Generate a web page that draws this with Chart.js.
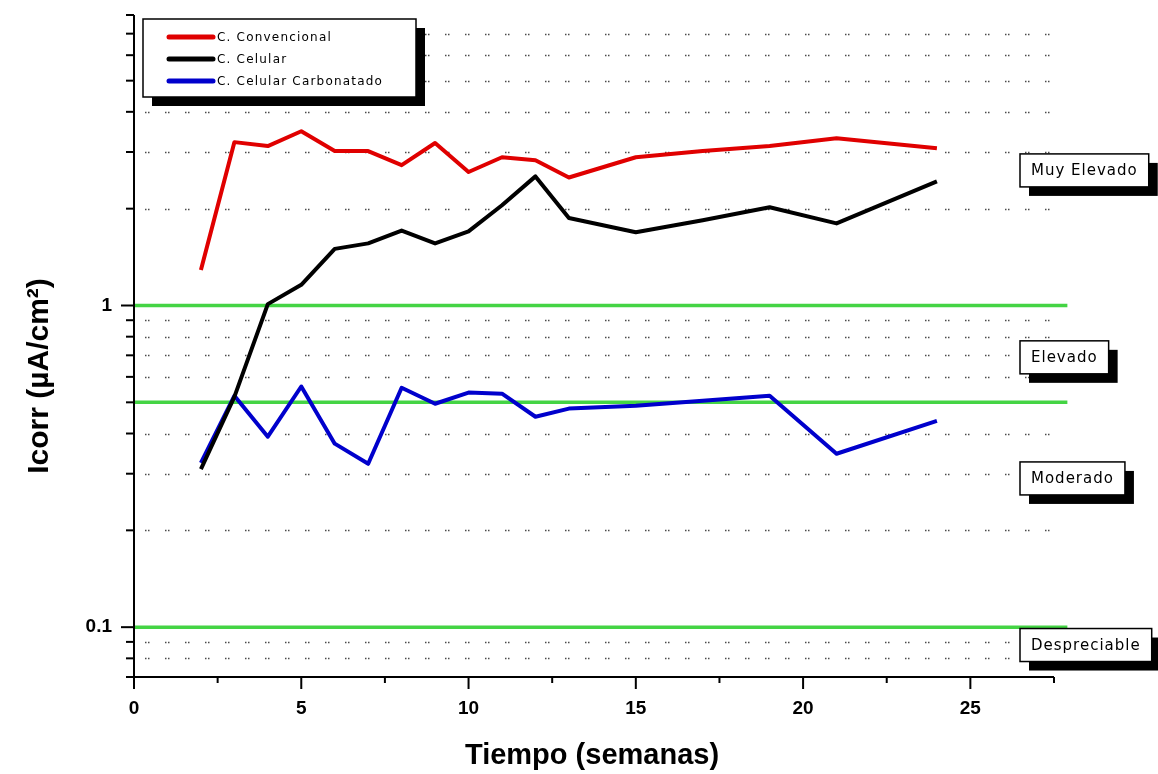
<!DOCTYPE html>
<html><head><meta charset="utf-8">
<script src="https://cdn.jsdelivr.net/npm/chart.js"></script>
<style>html,body{margin:0;padding:0;background:#fff;}canvas{display:block;}</style>
</head><body>
<canvas id="c" width="1158" height="774"></canvas>
<script>
// ---- data ----
const weeks        = [2, 3, 4, 5, 6, 7, 8, 9, 10, 11, 12, 13, 15, 17, 19, 21, 24];
const convencional = [1.29, 3.22, 3.13, 3.48, 3.02, 3.02, 2.73, 3.20, 2.60, 2.89, 2.83, 2.50, 2.89, 3.02, 3.13, 3.31, 3.08];
const celular      = [0.31, 0.52, 1.01, 1.16, 1.50, 1.56, 1.71, 1.56, 1.70, 2.05, 2.52, 1.87, 1.69, 1.84, 2.02, 1.80, 2.43];
const carbonatado  = [0.324, 0.524, 0.391, 0.56, 0.372, 0.322, 0.555, 0.495, 0.536, 0.532, 0.451, 0.478, 0.488, 0.506, 0.524, 0.346, 0.438];
const seriesNames  = ['C. Convencional', 'C. Celular', 'C. Celular Carbonatado'];
const thresholds   = [1, 0.5, 0.1];
const thresholdSpan = [0, 27.9];
const yTickValues  = [0.07, 0.08, 0.09, 0.1, 0.2, 0.3, 0.4, 0.5, 0.6, 0.7, 0.8, 0.9, 1, 2, 3, 4, 5, 6, 7, 8];
const yTickLabels  = { '0.1': '0.1', '1': '1' };
const yMajor       = [0.1, 1];
const xRange       = [0, 27.5];
const xStep        = 2.5;
const xLabelStep   = 5;
const bandLabels   = ['Muy Elevado', 'Elevado', 'Moderado', 'Despreciable'];
const bandLabelValues = [2.63, 0.69, 0.29, 0.088];
const xTitle = 'Tiempo (semanas)';
const yTitle = 'Icorr (\u00B5A/cm\u00B2)';

// ---- styles ----
const seriesColors = ['#e00000', '#000000', '#0000cc'];
const green = '#44d444';
const AX = "'Liberation Sans', Arial, sans-serif";
const PIX = "'DejaVu Sans', sans-serif";

const datasets = [
  { data: convencional, name: seriesNames[0], color: seriesColors[0] },
  { data: celular, name: seriesNames[1], color: seriesColors[1] },
  { data: carbonatado, name: seriesNames[2], color: seriesColors[2] }
].map(s => ({
  label: s.name,
  data: weeks.map((w, i) => ({ x: w, y: s.data[i] })),
  borderColor: s.color, backgroundColor: s.color,
  borderWidth: 4, pointRadius: 0, tension: 0, order: 0,
  borderJoinStyle: 'round', isSeries: true
}));
thresholds.forEach(t => datasets.push({
  label: 'ref ' + t,
  data: thresholdSpan.map(x => ({ x: x, y: t })),
  borderColor: green, borderWidth: 3.5, pointRadius: 0, order: 5, clip: false, isSeries: false
}));

function shadowBox(ctx, x, y, w, h, off) {
  ctx.fillStyle = '#000';
  ctx.fillRect(x + off, y + off, w, h);
  ctx.fillStyle = '#fff';
  ctx.fillRect(x, y, w, h);
  ctx.strokeStyle = '#000';
  ctx.lineWidth = 1.5;
  ctx.strokeRect(x, y, w, h);
}

const decor = {
  id: 'decor',
  beforeDatasetsDraw(chart) {
    const ctx = chart.ctx, ys = chart.scales.y, a = chart.chartArea;
    ctx.save();
    ctx.strokeStyle = 'rgba(30,30,30,0.8)';
    ctx.lineWidth = 1.3;
    ctx.setLineDash([1.5, 1.5, 1.5, 15.5]);
    yTickValues.forEach(v => {
      if (v === yTickValues[0] || v === yTickValues[yTickValues.length - 1] || thresholds.includes(v)) return;
      const y = Math.round(ys.getPixelForValue(v)) + 0.5;
      ctx.beginPath(); ctx.moveTo(a.left + 11, y); ctx.lineTo(a.right, y); ctx.stroke();
    });
    ctx.restore();
  },
  afterDatasetsDraw(chart) {
    const ctx = chart.ctx, xs = chart.scales.x, ys = chart.scales.y, a = chart.chartArea;
    ctx.save();
    // axes
    ctx.strokeStyle = '#000'; ctx.lineWidth = 2; ctx.setLineDash([]);
    const x0 = xs.getPixelForValue(xRange[0]);
    const yb = ys.getPixelForValue(yTickValues[0]);
    const yt = ys.getPixelForValue(yTickValues[yTickValues.length - 1]);
    ctx.beginPath(); ctx.moveTo(x0, yt); ctx.lineTo(x0, yb + 12); ctx.stroke();
    ctx.beginPath(); ctx.moveTo(x0 - 8, yb); ctx.lineTo(xs.getPixelForValue(xRange[1]), yb); ctx.stroke();
    yTickValues.forEach(v => {
      const y = ys.getPixelForValue(v);
      const len = yMajor.includes(v) ? 13 : 8;
      ctx.beginPath(); ctx.moveTo(x0 - len, y); ctx.lineTo(x0, y); ctx.stroke();
    });
    for (let v = xRange[0]; v <= xRange[1] + 1e-9; v += xStep) {
      const x = xs.getPixelForValue(v);
      const len = (v % xLabelStep === 0) ? 12 : 6;
      ctx.beginPath(); ctx.moveTo(x, yb); ctx.lineTo(x, yb + len); ctx.stroke();
    }
    // titles
    ctx.fillStyle = '#000';
    ctx.font = 'bold 29px ' + AX;
    ctx.textAlign = 'center'; ctx.textBaseline = 'middle';
    ctx.fillText(xTitle, 592, 756);
    ctx.save();
    ctx.translate(40, 376); ctx.rotate(-Math.PI / 2);
    ctx.font = 'bold 30px ' + AX;
    ctx.fillText(yTitle, 0, 0);
    ctx.restore();
    // legend
    const lx = 143, ly = 19, lw = 273, lh = 78;
    shadowBox(ctx, lx, ly, lw, lh, 9);
    ctx.font = '12px ' + PIX;
    ctx.letterSpacing = '1.2px';
    ctx.textAlign = 'left'; ctx.textBaseline = 'middle';
    chart.data.datasets.filter(d => d.isSeries).forEach((d, i) => {
      const yy = ly + 18 + i * 22;
      ctx.strokeStyle = d.borderColor; ctx.lineWidth = 5; ctx.lineCap = 'round';
      ctx.beginPath(); ctx.moveTo(lx + 26, yy); ctx.lineTo(lx + 70, yy); ctx.stroke();
      ctx.fillStyle = '#000';
      ctx.fillText(d.label, lx + 74, yy + 1);
    });
    ctx.lineCap = 'butt';
    // band labels
    ctx.font = '15px ' + PIX;
    ctx.letterSpacing = '1px';
    bandLabels.forEach((t, i) => {
      const cy = ys.getPixelForValue(bandLabelValues[i]);
      const w = ctx.measureText(t).width + 22, h = 33;
      const bx = a.right - 34;
      shadowBox(ctx, bx, cy - h / 2, w, h, 9);
      ctx.fillStyle = '#000';
      ctx.textAlign = 'left';
      ctx.fillText(t, bx + 11, cy + 1);
    });
    ctx.restore();
  }
};

new Chart(document.getElementById('c'), {
  type: 'line',
  data: { datasets: datasets },
  options: {
    responsive: false, animation: false, devicePixelRatio: 1,
    layout: { padding: { left: 0, top: 15, right: 104, bottom: 0 } },
    plugins: { legend: { display: false }, tooltip: { enabled: false } },
    scales: {
      x: {
        type: 'linear', min: xRange[0], max: xRange[1],
        afterFit(s) { s.height = 97; s.paddingLeft = 0; s.paddingRight = 0; },
        grid: { display: false, drawTicks: false },
        border: { display: false },
        ticks: {
          stepSize: xStep, autoSkip: false, maxRotation: 0, minRotation: 0, padding: 20,
          color: '#000', font: { family: AX, size: 19, weight: 'bold' },
          callback: v => (v % xLabelStep === 0 ? String(v) : '')
        }
      },
      y: {
        type: 'logarithmic', min: yTickValues[0], max: yTickValues[yTickValues.length - 1],
        afterFit(s) { s.width = 134; s.paddingTop = 0; s.paddingBottom = 0; },
        afterBuildTicks(s) { s.ticks = yTickValues.map(v => ({ value: v })); },
        grid: { display: false, drawTicks: false },
        border: { display: false },
        ticks: {
          autoSkip: false, padding: 22, color: '#000',
          font: { family: AX, size: 19, weight: 'bold' },
          callback: v => (yTickLabels[String(v)] || '')
        }
      }
    }
  },
  plugins: [decor]
});
</script>
</body></html>
